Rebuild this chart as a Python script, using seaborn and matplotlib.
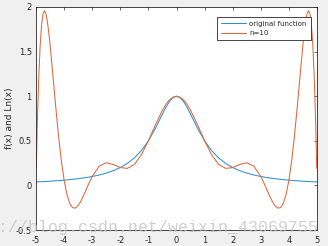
import matplotlib
matplotlib.use("Agg")
import matplotlib.pyplot as plt
import seaborn as sns
import pandas as pd

# x positions of the samples
x_vals = [-4.99, -4.95, -4.9, -4.85, -4.8, -4.75, -4.7, -4.65, -4.6, -4.55, -4.5,
          -4.4, -4.3, -4.2, -4.1, -4.0, -3.9, -3.8, -3.7, -3.6, -3.5, -3.4, -3.3,
          -3.2, -3.1, -3.0, -2.75, -2.5, -2.25, -2.0, -1.75, -1.5, -1.25, -1.0,
          -0.75, -0.5, -0.375, -0.25, -0.125, 0.0, 0.125, 0.25, 0.375, 0.5, 0.75,
          1.0, 1.25, 1.5, 1.75, 2.0, 2.25, 2.5, 2.75, 3.0, 3.1, 3.2, 3.3, 3.4, 3.5,
          3.6, 3.7, 3.8, 3.9, 4.0, 4.1, 4.2, 4.3, 4.4, 4.5, 4.55, 4.6, 4.65, 4.7,
          4.75, 4.8, 4.85, 4.9, 4.95, 4.99]

# original function values
orig_vals = [0.0386, 0.0392, 0.0400, 0.0408, 0.0416, 0.0424, 0.0433, 0.0442, 0.0451,
             0.0461, 0.0471, 0.0491, 0.0513, 0.0536, 0.0561, 0.0588, 0.0617, 0.0648,
             0.0681, 0.0716, 0.0755, 0.0796, 0.0841, 0.0890, 0.0942, 0.1000, 0.1168,
             0.1379, 0.1649, 0.2000, 0.2462, 0.3077, 0.3902, 0.5000, 0.6400, 0.8000,
             0.8767, 0.9412, 0.9846, 1.0000, 0.9846, 0.9412, 0.8767, 0.8000, 0.6400,
             0.5000, 0.3902, 0.3077, 0.2462, 0.2000, 0.1649, 0.1379, 0.1168, 0.1000,
             0.0942, 0.0890, 0.0841, 0.0796, 0.0755, 0.0716, 0.0681, 0.0648, 0.0617,
             0.0588, 0.0561, 0.0536, 0.0513, 0.0491, 0.0471, 0.0461, 0.0451, 0.0442,
             0.0433, 0.0424, 0.0416, 0.0408, 0.0400, 0.0392, 0.0386]

# n=10 curve values
n10_vals = [0.1922, 0.7261, 1.2300, 1.5810, 1.8050, 1.9236, 1.9590, 1.9280, 1.8460,
            1.7257, 1.5787, 1.2400, 0.8880, 0.5605, 0.2802, 0.0588, -0.1007, -0.2013,
            -0.2496, -0.2546, -0.2262, -0.1743, -0.1083, -0.0363, 0.0349, 0.1000,
            0.2156, 0.2538, 0.2350, 0.2000, 0.1906, 0.2353, 0.3426, 0.5000, 0.6790,
            0.8434, 0.9090, 0.9586, 0.9895, 1.0000, 0.9895, 0.9586, 0.9090, 0.8434,
            0.6790, 0.5000, 0.3426, 0.2353, 0.1906, 0.2000, 0.2350, 0.2538, 0.2156,
            0.1000, 0.0349, -0.0363, -0.1083, -0.1743, -0.2262, -0.2546, -0.2496,
            -0.2013, -0.1007, 0.0588, 0.2802, 0.5605, 0.8880, 1.2400, 1.5787, 1.7257,
            1.8460, 1.9280, 1.9590, 1.9236, 1.8050, 1.5810, 1.2300, 0.7261, 0.1922]

series_names = ["original function", "n=10"]
x_ticks = [-5, -4, -3, -2, -1, 0, 1, 2, 3, 4, 5]
y_ticks = [-0.5, 0, 0.5, 1, 1.5, 2]
y_tick_labels = ["-0.5", "0", "0.5", "1", "1.5", "2"]
x_tick_labels = ["-5", "-4", "-3", "-2", "-1", "0", "1", "2", "3", "4", "5"]
y_label = "f(x) and Ln(x)"
watermark = "http://blog.csdn.net/weixin_43069755"

sns.set_style("white")
plt.rcParams["font.family"] = ["DejaVu Sans"]

df = pd.DataFrame({
    "x": x_vals * 2,
    "y": orig_vals + n10_vals,
    "series": [series_names[0]] * len(x_vals) + [series_names[1]] * len(x_vals),
})

fig = plt.figure(figsize=(3.28, 2.46), dpi=100, facecolor="#F0F0F0")
ax = fig.add_axes([36 / 328, 1 - 230 / 246, (317 - 36) / 328, (230 - 7) / 246])
ax.set_facecolor("white")

palette = {series_names[0]: "#2E8FD3", series_names[1]: "#E0663A"}
sns.lineplot(data=df, x="x", y="y", hue="series", palette=palette, ax=ax,
             linewidth=0.75, sort=False, estimator=None)

ax.set_xlim(-5, 5)
ax.set_ylim(-0.5, 2)
ax.set_xticks(x_ticks)
ax.set_xticklabels(x_tick_labels)
ax.set_yticks(y_ticks)
ax.set_yticklabels(y_tick_labels)
ax.set_xlabel("")
ax.set_ylabel(y_label, fontsize=6.5, color="#262626")
ax.yaxis.set_label_coords(-0.08, 0.5)
ax.tick_params(axis="both", which="both", direction="in", length=2.5, width=0.5,
               labelsize=6, colors="#262626", top=True, right=True, pad=3)
ax.tick_params(axis="x", pad=4.5)
for s in ax.spines.values():
    s.set_color("#262626")
    s.set_linewidth(0.6)
    s.set_visible(True)

leg = ax.legend(loc="upper right", fontsize=5.0, frameon=True, fancybox=False,
                borderaxespad=0.0, handlelength=3.6, handletextpad=0.4,
                borderpad=0.6, labelspacing=0.5)
leg.set_bbox_to_anchor((0.977, 0.957), transform=ax.transAxes)
leg.get_frame().set_edgecolor("#262626")
leg.get_frame().set_linewidth(0.6)
leg.get_frame().set_facecolor("white")
leg.get_frame().set_alpha(1)
for line in leg.get_lines():
    line.set_linewidth(0.75)

fig.text(319 / 328, 1 - 232 / 246, watermark, ha="right", va="baseline",
         fontsize=12, family="Liberation Mono", color="#C4C4C4", alpha=0.8,
         zorder=10)

fig.savefig("out.png", dpi=100, facecolor=fig.get_facecolor())
